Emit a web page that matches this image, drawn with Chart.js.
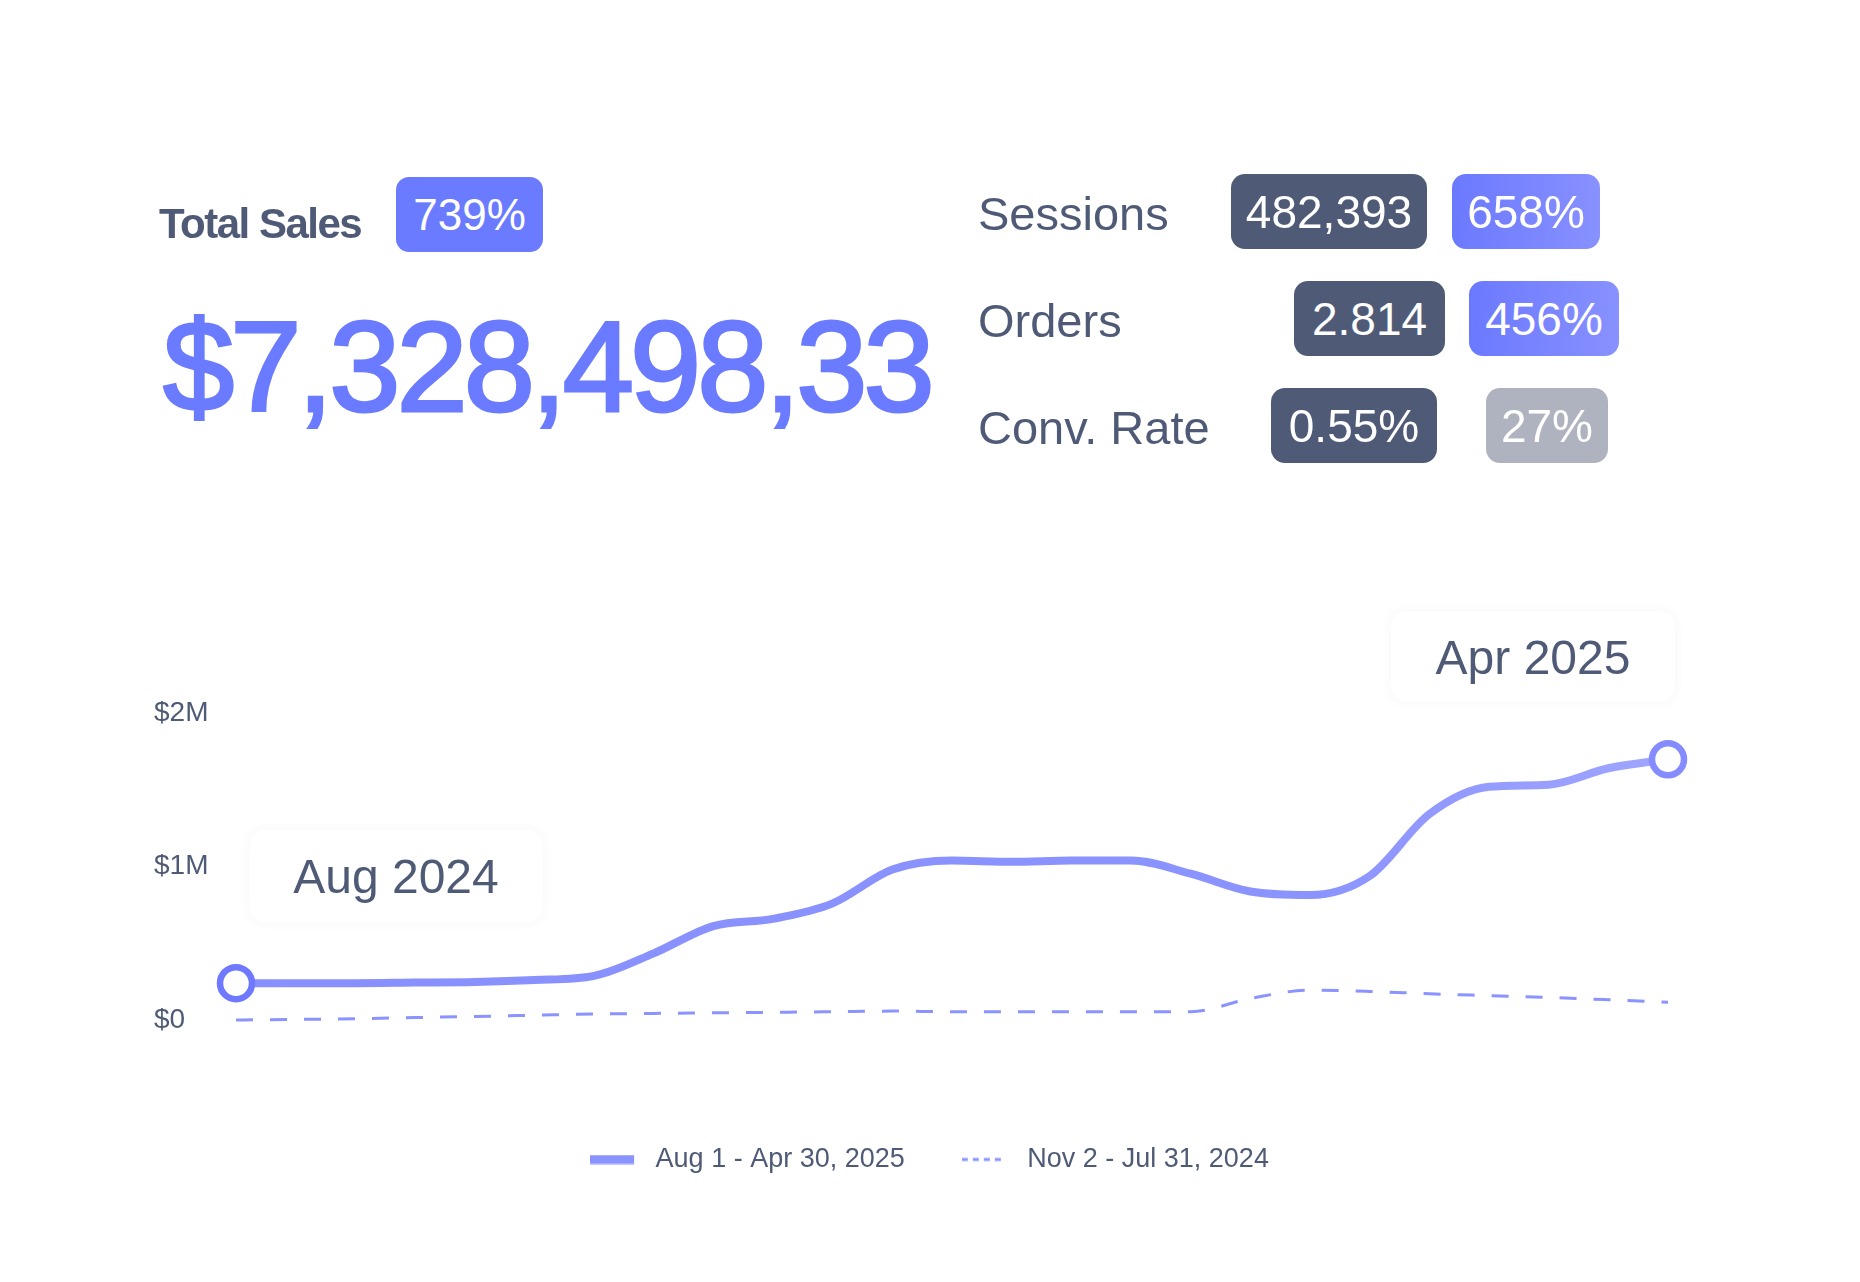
<!DOCTYPE html>
<html>
<head>
<meta charset="utf-8">
<script src="https://cdn.jsdelivr.net/npm/chart.js@4.4.1/dist/chart.umd.min.js"></script>
<style>
html,body{margin:0;padding:0;background:#fff;}
body{width:1860px;height:1282px;position:relative;overflow:hidden;font-family:"Liberation Sans",Arial,Helvetica,sans-serif;color:#4f5b76;}
#wrap{position:absolute;left:0;top:0;width:1860px;height:1282px;}
.abs{position:absolute;white-space:nowrap;line-height:1;}
.badge{position:absolute;display:flex;align-items:center;justify-content:center;color:#fff;border-radius:14px;font-size:46px;line-height:1;white-space:nowrap;}
.dark{background:#4f5b76;}
.grad{background:linear-gradient(90deg,#6b79ff 0%,#8891ff 100%);}
.gray{background:#aeb3bf;}
</style>
</head>
<body>
<div id="wrap"><canvas id="c"></canvas></div>
<div id="kpi"></div>
<script>
// ---------- data ----------
const totalSalesLabel = 'Total Sales';
const totalSalesValue = '$7,328,498,33';
const totalSalesChange = '739%';
const kpiNames = ['Sessions', 'Orders', 'Conv. Rate'];
const kpiValues = ['482,393', '2.814', '0.55%'];
const kpiChanges = ['658%', '456%', '27%'];

const categories = ['Aug 1','Aug 12','Aug 24','Sep 4','Sep 15','Sep 27','Oct 8','Oct 19','Oct 31',
  'Nov 11','Nov 22','Dec 4','Dec 15','Dec 26','Jan 7','Jan 18','Jan 29','Feb 10','Feb 21',
  'Mar 4','Mar 16','Mar 27','Apr 7','Apr 19','Apr 30'];
const currentSales = [240000, 240000, 240000, 244000, 248000, 260000, 287000, 434000, 612000,
  659000, 760000, 980000, 1039000, 1031000, 1039000, 1039000, 953000, 837000, 814000,
  938000, 1341000, 1519000, 1533000, 1640000, 1698000];
const previousSales = [0, 4000, 8000, 16000, 23000, 31000, 39000, 43000, 47000,
  50000, 54000, 58000, 54000, 54000, 54000, 54000, 54000, 140000, 194000,
  186000, 171000, 159000, 147000, 132000, 116000];
const seriesLabels = ['Aug 1 - Apr 30, 2025', 'Nov 2 - Jul 31, 2024'];
const yTicks = [0, 1000000, 2000000];
const yTickLabels = ['$0', '$1M', '$2M'];
const calloutLabels = ['Aug 2024', 'Apr 2025'];

// ---------- header (layout only) ----------
const FONT = '"Liberation Sans", Arial, Helvetica, sans-serif';
const kpi = document.getElementById('kpi');
function el(cls, text, style){
  const d = document.createElement('div');
  d.className = cls; d.textContent = text;
  Object.assign(d.style, style); kpi.appendChild(d); return d;
}
el('abs', totalSalesLabel, {left:'159px', top:'203px', fontSize:'42px', fontWeight:'700', letterSpacing:'-1.5px', color:'#4f5b76'});
el('badge', totalSalesChange, {left:'396px', top:'177px', width:'147px', height:'75px', fontSize:'44px', background:'#6b7bff', borderRadius:'13px'});
el('abs', totalSalesValue, {left:'163px', top:'303px', fontSize:'128px', fontWeight:'400', letterSpacing:'-3.9px', color:'#6b7bff', webkitTextStroke:'3px #6b7bff'});

const rowLayout = [
  {top:174, vl:1231, vw:196, cl:1452, cw:148, cc:'grad'},
  {top:281, vl:1294, vw:151, cl:1469, cw:150, cc:'grad'},
  {top:388, vl:1271, vw:166, cl:1486, cw:122, cc:'gray'}
];
kpiNames.forEach((n, i) => {
  const L = rowLayout[i];
  const center = L.top + 37.5;
  el('abs', n, {left:'978px', top:(center - 0.4885*47 + 1)+'px', fontSize:'47px', color:'#4f5b76'});
  el('badge dark', kpiValues[i], {left:L.vl+'px', top:L.top+'px', width:L.vw+'px', height:'75px'});
  el('badge ' + L.cc, kpiChanges[i], {left:L.cl+'px', top:L.top+'px', width:L.cw+'px', height:'75px'});
});

// ---------- chart ----------
function solidGradient(ctx){
  const chart = ctx.chart; const a = chart.chartArea;
  if (!a) return '#8b93ff';
  const g = chart.ctx.createLinearGradient(a.left, 0, a.right, 0);
  g.addColorStop(0, '#8890ff');
  g.addColorStop(0.75, '#8b93ff');
  g.addColorStop(1, '#9fa5ff');
  return g;
}

// legend samples: line drawn in the left part, transparent space to the right
function legendSample(solid){
  const w = 52, h = 10;
  const cv = document.createElement('canvas');
  cv.width = w; cv.height = h;
  const c = cv.getContext('2d');
  c.strokeStyle = '#8b93ff';
  c.lineWidth = solid ? 9 : 3;
  c.setLineDash(solid ? [] : [6, 5]);
  c.beginPath(); c.moveTo(0, h/2); c.lineTo(44, h/2); c.stroke();
  return cv;
}

const calloutPlugin = {
  id: 'callouts',
  afterDatasetsDraw(chart){
    const meta = chart.getDatasetMeta(0);
    const first = meta.data[0], last = meta.data[meta.data.length - 1];
    const ctx = chart.ctx;
    const boxes = [
      {text: calloutLabels[0], cx: first.x + 160, cy: first.y - 107, w: 293, h: 93},
      {text: calloutLabels[1], cx: last.x - 135, cy: last.y - 103, w: 284, h: 91}
    ];
    boxes.forEach(b => {
      ctx.save();
      ctx.shadowColor = 'rgba(60,70,110,0.05)';
      ctx.shadowBlur = 12;
      ctx.fillStyle = '#ffffff';
      ctx.beginPath();
      ctx.roundRect(b.cx - b.w/2, b.cy - b.h/2, b.w, b.h, 16);
      ctx.fill();
      ctx.restore();
      ctx.save();
      ctx.fillStyle = '#4f5b76';
      ctx.font = '48px ' + FONT;
      ctx.textAlign = 'center';
      ctx.textBaseline = 'alphabetic';
      ctx.fillText(b.text, b.cx, b.cy + 0.358 * 48);
      ctx.restore();
    });
  }
};

const lastIdx = categories.length - 1;
new Chart(document.getElementById('c'), {
  type: 'line',
  data: {
    labels: categories,
    datasets: [
      {
        label: seriesLabels[0],
        data: currentSales,
        borderColor: solidGradient,
        borderWidth: 8,
        cubicInterpolationMode: 'monotone',
        borderCapStyle: 'round',
        pointRadius: c => (c.dataIndex === 0 || c.dataIndex === lastIdx) ? 16 : 0,
        pointBorderWidth: 6.5,
        pointBackgroundColor: '#ffffff',
        pointBorderColor: c => c.dataIndex === 0 ? '#6e79ff' : '#848cff',
        fill: false,
        clip: false,
        order: 0
      },
      {
        label: seriesLabels[1],
        data: previousSales,
        borderColor: '#8b93ff',
        borderWidth: 3,
        borderDash: [17, 17],
        cubicInterpolationMode: 'monotone',
        pointRadius: 0,
        fill: false,
        clip: false,
        order: 1
      }
    ]
  },
  options: {
    responsive: true,
    maintainAspectRatio: false,
    animation: false,
    events: [],
    layout: {padding: {left: 154, right: 155, top: 713, bottom: 99}},
    scales: {
      x: {
        display: true,
        grid: {display: false},
        border: {display: false},
        ticks: {display: false},
        afterFit(s){ s.height = 69; }
      },
      y: {
        min: 0, max: 2000000,
        afterBuildTicks(s){ s.ticks = yTicks.map(v => ({value: v})); },
        grid: {display: false},
        border: {display: false},
        ticks: {
          crossAlign: 'far',
          padding: 0,
          color: '#4f5b76',
          font: {family: FONT, size: 28},
          callback: (v) => yTickLabels[yTicks.indexOf(v)]
        },
        afterFit(s){ s.width = 82; }
      },
      yRight: {
        type: 'linear',
        position: 'right',
        display: true,
        min: 0, max: 2000000,
        grid: {display: false},
        border: {display: false},
        ticks: {display: false},
        afterFit(s){ s.width = 37; }
      }
    },
    plugins: {
      tooltip: {enabled: false},
      legend: {
        position: 'bottom',
        labels: {
          usePointStyle: true,
          pointStyleWidth: 52,
          boxHeight: 10,
          padding: 57,
          color: '#4f5b76',
          font: {family: FONT, size: 27},
          generateLabels(chart){
            return chart.data.datasets.map((ds, i) => ({
              text: ds.label,
              datasetIndex: i,
              fillStyle: '#8b93ff',
              strokeStyle: '#8b93ff',
              lineWidth: 0,
              pointStyle: legendSample(i === 0),
              fontColor: '#4f5b76',
              hidden: false
            }));
          }
        }
      }
    }
  },
  plugins: [calloutPlugin]
});
</script>
</body>
</html>
